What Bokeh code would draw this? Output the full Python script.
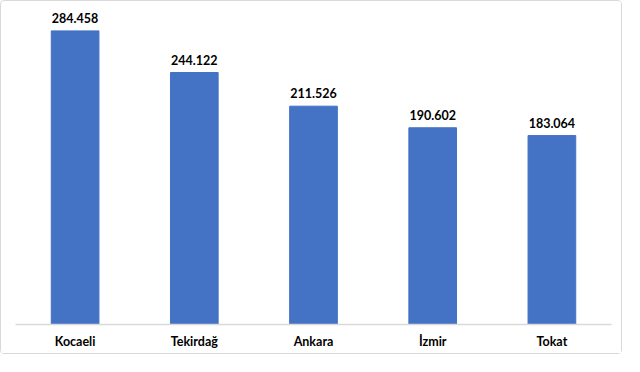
from bokeh.plotting import figure
from bokeh.models import ColumnDataSource, LabelSet, Range1d
from bokeh.core.properties import value
from bokeh.embed import file_html
from bokeh.resources import INLINE

categories = ["Kocaeli", "Tekirdağ", "Ankara", "İzmir", "Tokat"]
values = [284.458, 244.122, 211.526, 190.602, 183.064]
labels = ["{:.3f}".format(v) for v in values]

source = ColumnDataSource(data=dict(cat=categories, val=values, lab=labels))

p = figure(x_range=categories, width=622, height=354, output_backend="svg",
           toolbar_location=None, min_border_left=14, min_border_right=12,
           min_border_top=2, min_border_bottom=31)
p.y_range = Range1d(0, 311)
p.vbar(x="cat", top="val", width=0.4, source=source, color="#4472C4")

p.add_layout(LabelSet(x="cat", y="val", text="lab", source=source,
                      text_align="center", text_baseline="bottom", y_offset=8,
                      text_font=value("Lato"), text_font_style="bold",
                      text_font_size="12.5px", text_color="#000000"))

p.yaxis.visible = False
p.xgrid.visible = False
p.ygrid.visible = False
p.outline_line_color = None
p.xaxis.axis_line_color = "#d9d9d9"
p.xaxis.axis_line_width = 1.5
p.xaxis.major_tick_line_color = None
p.xaxis.minor_tick_line_color = None
p.xaxis.major_label_text_font = "Lato"
p.xaxis.major_label_text_font_style = "bold"
p.xaxis.major_label_text_font_size = "12.5px"
p.xaxis.major_label_text_color = "#000000"
p.xaxis.major_label_standoff = 3
p.styles = {"border": "1px solid #d9d9d9", "border-radius": "4px"}

open("out.html", "w").write(file_html(p, INLINE))
